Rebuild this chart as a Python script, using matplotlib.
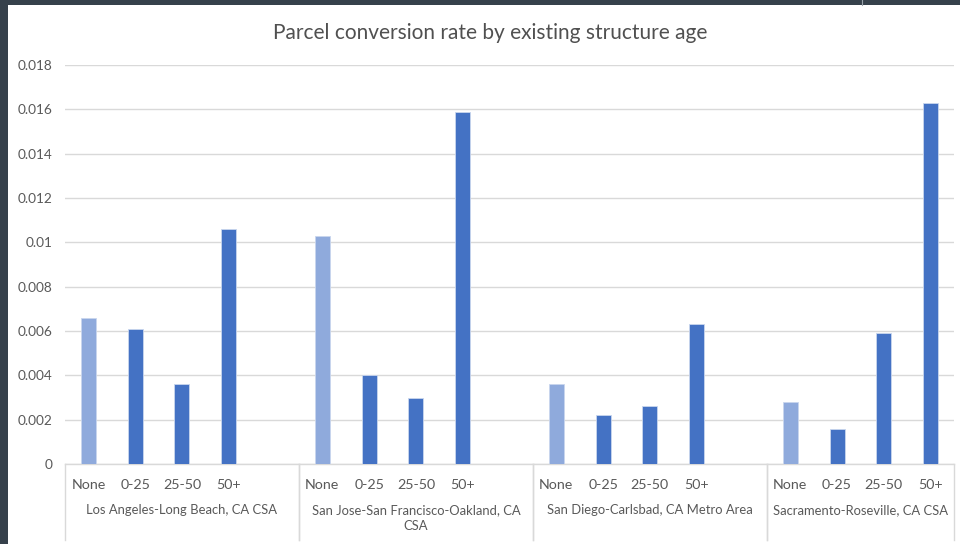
import matplotlib.pyplot as plt
import matplotlib.transforms as mtransforms
from matplotlib.patches import Rectangle

plt.rcParams['font.family'] = ['Lato', 'DejaVu Sans']

# data
regions = ['Los Angeles-Long Beach, CA CSA',
           'San Jose-San Francisco-Oakland, CA\nCSA',
           'San Diego-Carlsbad, CA Metro Area',
           'Sacramento-Roseville, CA CSA']
ages = ['None', '0-25', '25-50', '50+']
rates = [
    [0.0066, 0.0061, 0.0036, 0.0106],
    [0.0103, 0.0040, 0.0030, 0.0159],
    [0.0036, 0.0022, 0.0026, 0.0063],
    [0.0028, 0.0016, 0.0059, 0.0163],
]
yticks = [0, 0.002, 0.004, 0.006, 0.008, 0.01, 0.012, 0.014, 0.016, 0.018]
ytick_labels = ['0', '0.002', '0.004', '0.006', '0.008', '0.01', '0.012', '0.014', '0.016', '0.018']

col_none = '#8FAADC'
col_age = '#4472C4'
txt = '#595959'
grid = '#D9D9D9'

W, H = 960, 544
fig = plt.figure(figsize=(W / 100, H / 100), dpi=100)
fig.patch.set_facecolor('#36414B')
# white chart panel on the dark window
fig.patches.append(Rectangle((8 / W, 0), 1 - 8 / W, (H - 5) / H, transform=fig.transFigure,
                             facecolor='white', edgecolor='none', zorder=-10))
fig.lines.append(plt.Line2D([862 / W, 862 / W], [1 - 5 / H, 1], transform=fig.transFigure,
                            color='#9AA3AB', lw=0.8))

ax = fig.add_axes([65 / W, 80 / H, (954 - 65) / W, (479 - 80) / H])
ax.set_facecolor('none')

# every group has 4 bars plus one empty slot after it (except the last)
xs, hs, cs, labels = [], [], [], []
slot = 0
group_bounds = []
for g, vals in enumerate(rates):
    start = slot
    for i, v in enumerate(vals):
        xs.append(slot)
        hs.append(v)
        cs.append(col_none if i == 0 else col_age)
        labels.append(ages[i])
        slot += 1
    if g < len(rates) - 1:
        slot += 1
    group_bounds.append((start - 0.5, slot - 0.5))

ax.bar(xs, hs, width=0.32, color=cs, edgecolor='#C9D6EE', linewidth=0.6, zorder=3)

ax.set_xlim(-0.5, slot - 0.5)
ax.set_ylim(0, 0.018)
ax.set_yticks(yticks)
ax.set_yticklabels(ytick_labels)
ax.yaxis.grid(True, color=grid, lw=1)
ax.set_axisbelow(True)
ax.tick_params(axis='y', length=0, pad=9, labelsize=9.8, labelcolor=txt)

ax.set_xticks(xs)
ax.set_xticklabels(labels)
ax.tick_params(axis='x', length=0, pad=11, labelsize=10.3, labelcolor=txt)

for s in ['top', 'right', 'left']:
    ax.spines[s].set_visible(False)
ax.spines['bottom'].set_color(grid)
ax.spines['bottom'].set_linewidth(1)

# category boxes below the axis
trans = mtransforms.blended_transform_factory(ax.transData, ax.transAxes)
depth = 76 / 399
for g, (a, b) in enumerate(group_bounds):
    for xv in (a, b):
        ax.plot([xv, xv], [0, -depth], transform=trans, color=grid, lw=1, clip_on=False)
    ax.text((a + b) / 2, -40 / 399, regions[g], transform=trans, ha='center', va='top',
            fontsize=9.4, color=txt, linespacing=1.35)

fig.text(490 / W, 1 - 33 / H, 'Parcel conversion rate by existing structure age',
         ha='center', va='center', fontsize=15, color='#505050')

fig.savefig('out.png', dpi=100, facecolor=fig.get_facecolor())
